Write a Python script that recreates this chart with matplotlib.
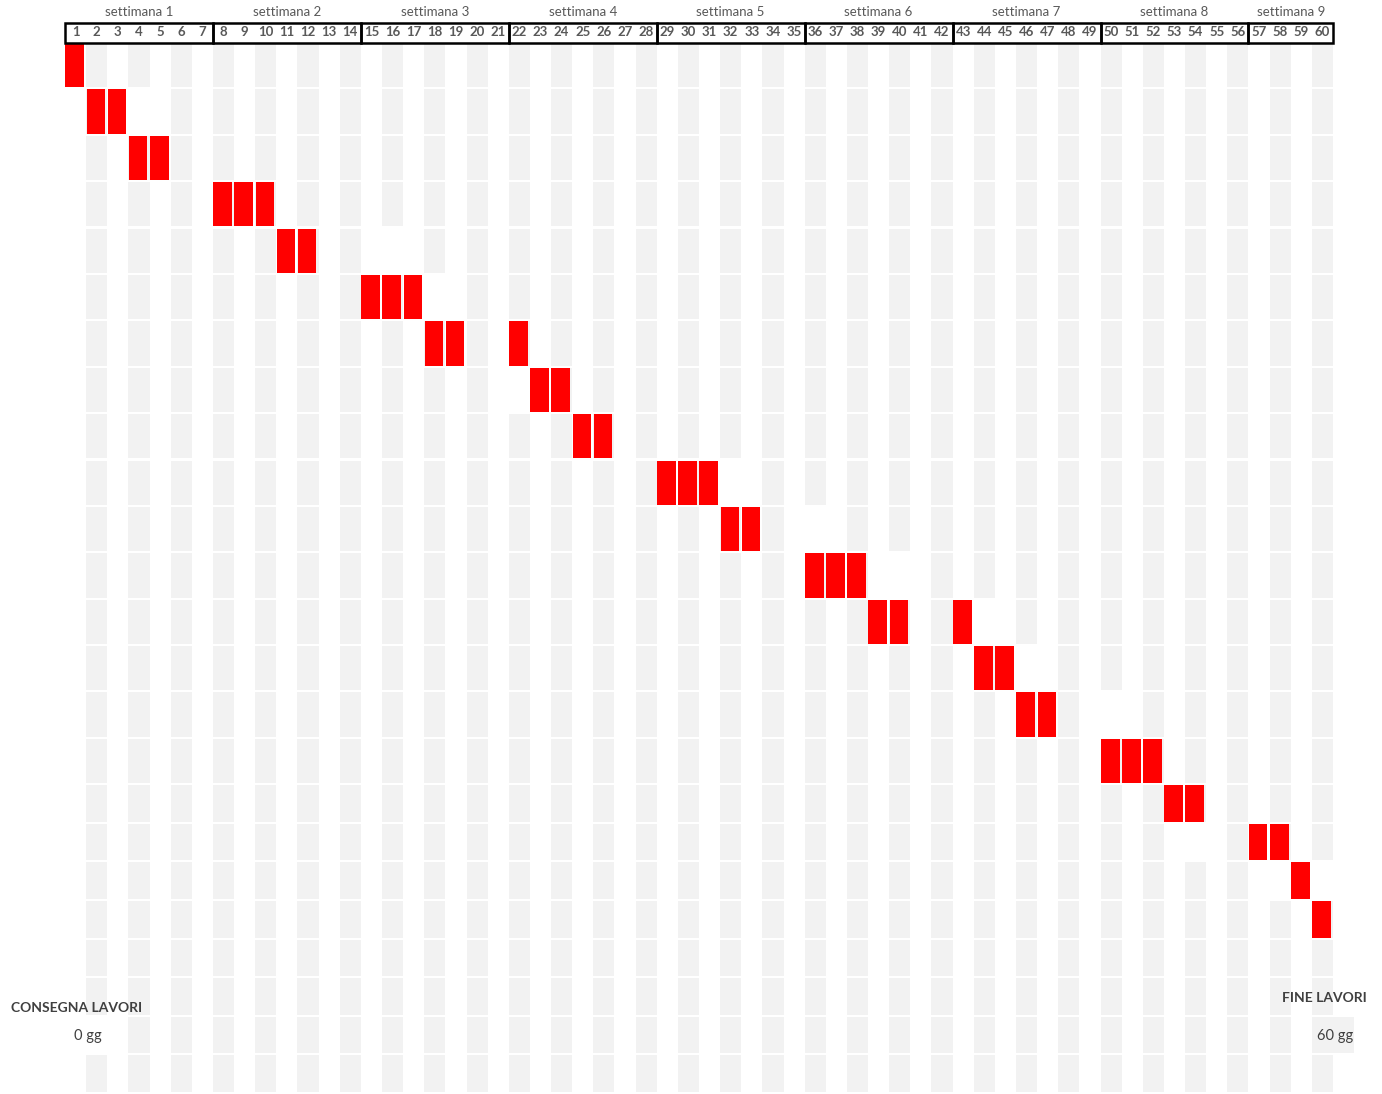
import matplotlib
matplotlib.use("Agg")

import numpy as np
import matplotlib.pyplot as plt
from matplotlib.patches import Rectangle

# --- data ---
n_days = 60
week_labels = ["settimana %d" % i for i in range(1, 10)]
task_days = [
    [1], [2, 3], [4, 5], [8, 9, 10], [11, 12], [15, 16, 17], [18, 19, 22],
    [23, 24], [25, 26], [29, 30, 31], [32, 33], [36, 37, 38], [39, 40, 43],
    [44, 45], [46, 47], [50, 51, 52], [53, 54], [57, 58], [59], [60],
]
# cells of the grey stripes that are left white (row, day)
white_cells = [(2, 4), (5, 16), (6, 18), (8, 22), (10, 32), (11, 36), (12, 40),
               (13, 44), (14, 46), (15, 50), (18, 54), (19, 58), (19, 60), (23, 2)]
start_label = "CONSEGNA LAVORI"
end_label = "FINE LAVORI"
start_value = "0 gg"
end_value = "60 gg"

# --- layout ---
row_heights = np.array([1.0] * 16 + [0.832] * 8)
row_top = np.concatenate([[0], np.cumsum(row_heights)[:-1]])
n_rows = len(row_heights)
gap = 0.045
grey = "#f2f2f2"
red = "#ff0000"
txt = "#595959"

fig = plt.figure(figsize=(13.82, 10.94), dpi=100)
ax = fig.add_axes([0, 0, 1, 1])
ax.set_xlim(-3.076, 62.32)
ax.set_ylim(row_top[-1] + row_heights[-1], -0.927)
ax.axis("off")

holes = set(white_cells)
for r in range(n_rows):
    for d in range(2, n_days + 1, 2):
        if (r + 1, d) in holes:
            continue
        ax.add_patch(Rectangle((d - 1, row_top[r]), 1, row_heights[r] - gap,
                               facecolor=grey, edgecolor="none", zorder=1))

# tasks
for r, days in enumerate(task_days):
    for d in days:
        ax.add_patch(Rectangle((d - 1 + 0.02, row_top[r]), 0.88, row_heights[r] - gap,
                               facecolor=red, edgecolor="none", zorder=3))

# header
for w, lab in enumerate(week_labels):
    x0 = w * 7
    x1 = min(x0 + 7, n_days)
    ax.text((x0 + x1) / 2, -0.668, lab, ha="center", va="center",
            fontsize=9.5, color=txt, family="Lato")
    ax.add_patch(Rectangle((x0, -0.44), x1 - x0, 0.43, facecolor="none",
                           edgecolor="black", lw=1.8, zorder=5))
for d in range(1, n_days + 1):
    ax.text(d - 0.5, -0.237, str(d), ha="center", va="center",
            fontsize=9.5, fontweight="bold", color=txt, family="Lato")

# start / end labels
r22 = row_top[21] + row_heights[21] / 2
r23 = row_top[22] + row_heights[22] / 2
ax.add_patch(Rectangle((n_days - 1, row_top[22]), 2, row_heights[22] - gap,
                       facecolor=grey, edgecolor="none", zorder=1))
ax.text(0.57, r22 + 0.22, start_label, ha="center", va="center", fontsize=10,
        fontweight="bold", color="#404040", family="Lato", zorder=6)
ax.text(1.06, r23, start_value, ha="center", va="center", fontsize=10.5,
        color="#404040", family="Lato", zorder=6)
ax.text(59.6, r22, end_label, ha="center", va="center", fontsize=10,
        fontweight="bold", color="#404040", family="Lato", zorder=6)
ax.text(60.1, r23, end_value, ha="center", va="center", fontsize=10.5,
        color="#404040", family="Lato", zorder=6)

fig.savefig("out.png", dpi=100)
